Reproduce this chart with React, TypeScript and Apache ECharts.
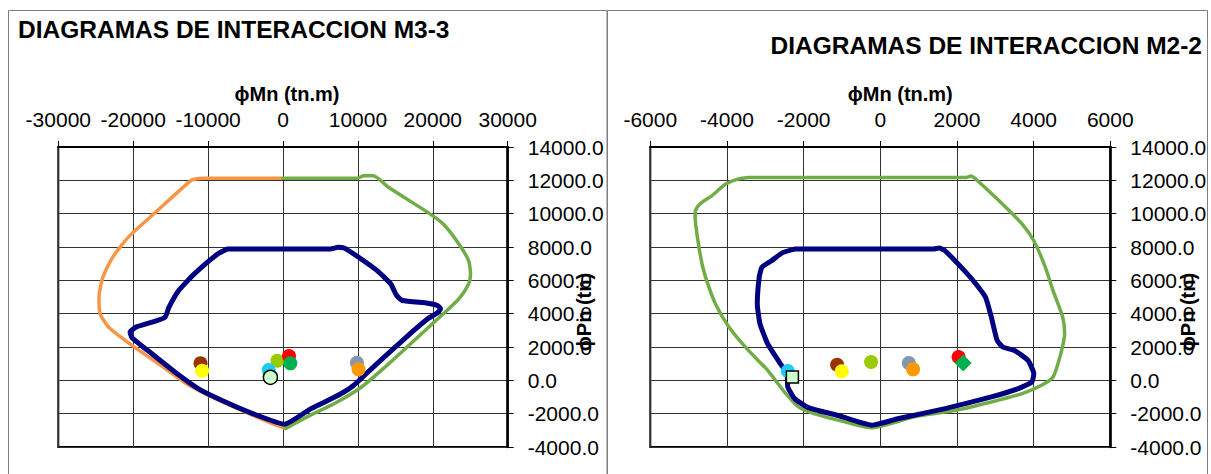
import React, { useEffect, useRef } from "react";
import * as echarts from "echarts";

// ---------- texts ----------
const TITLE_M33 = "DIAGRAMAS DE INTERACCION M3-3";
const TITLE_M22 = "DIAGRAMAS DE INTERACCION M2-2";
const X_NAME = "ϕMn (tn.m)";
const Y_NAME = "ϕPn (tn)";

// ---------- axes ----------
const M33_X = { min: -30000, max: 30000, interval: 10000 };
const M22_X = { min: -6000, max: 6000, interval: 2000 };
const P_AXIS = { min: -4000, max: 14000, interval: 2000 };

// ---------- M3-3 curves [Mn, Pn] ----------
const m33Left: [number, number][] = [
  [0, 12120], [-5000, 12120], [-10800, 12120], [-11840, 12070], [-12360, 11970],
  [-17040, 10075], [-20675, 8580], [-22750, 7380], [-24050, 6185], [-24570, 4990],
  [-24420, 3990], [-23270, 3190], [-20150, 2095], [-16000, 800], [-12880, -200],
  [-9500, -1000], [-5610, -1795], [-1970, -2490], [365, -2890],
];
const m33Right: [number, number][] = [
  [365, -2890], [3220, -2195], [6860, -1395], [10490, -400], [14130, 1000],
  [17770, 2495], [21400, 3990], [23480, 4890], [24780, 5785], [25040, 6385],
  [24780, 7180], [23480, 8180], [21400, 9375], [19330, 10075], [14130, 11570],
  [12050, 12270], [10750, 12270], [9970, 12130], [0, 12130],
];
const m33Design: [number, number][] = [
  [-7429, 7880], [6338, 7880], [7377, 7980], [8156, 7940], [9455, 7581],
  [12572, 6584], [14390, 5786], [15169, 5087], [15949, 4788], [19325, 4628],
  [20624, 4489], [21040, 4289], [20624, 4050], [19325, 3691], [16208, 2494],
  [12052, 798], [9455, -299], [7377, -898], [3740, -1696], [208, -2633],
  [-4052, -1995], [-8208, -1197], [-11325, -499], [-14442, 499], [-18079, 1796],
  [-20157, 2554], [-20416, 2893], [-19637, 3192], [-17040, 3551], [-15741, 3791],
  [-15221, 4389], [-13923, 5387], [-11845, 6384], [-8728, 7581], [-7429, 7880],
];

// ---------- M2-2 curves [Mn, Pn] ----------
const m22Outer: [number, number][] = [
  [-3440, 12165], [-3740, 12060], [-4044, 11760], [-4396, 11070], [-4600, 10770],
  [-4750, 10470], [-4830, 10070], [-4830, 9770], [-4770, 8575], [-4650, 6980],
  [-4500, 5785], [-4300, 4586], [-3945, 3190], [-3440, 1795], [-2937, 598],
  [-2535, -598], [-2133, -1595], [-1730, -1994], [-925, -2492], [-221, -2851],
  [885, -2193], [1891, -1834], [2897, -1296], [3702, -798], [4205, -299],
  [4507, 199], [4708, 1595], [4809, 2791], [4759, 3789], [4507, 5384],
  [4306, 6780], [4004, 8375], [3702, 9372], [3099, 10768], [2495, 12064],
  [2374, 12263], [2243, 12165], [-3440, 12165],
];
const m22Design: [number, number][] = [
  [-2233, 7876], [-2535, 7677], [-2837, 7178], [-3089, 6780], [-3159, 6181],
  [-3209, 4586], [-3139, 3390], [-2937, 2193], [-2636, 1097], [-2434, 399],
  [-2414, -399], [-2233, -1097], [-1881, -1635], [-1127, -2094], [-221, -2692],
  [483, -2293], [1690, -1695], [2897, -997], [3602, -499], [3954, -100],
  [4004, 399], [3853, 1196], [3501, 1795], [3199, 1994], [3048, 2393],
  [2897, 3789], [2746, 4985], [2495, 5783], [2193, 6580], [1690, 7776],
  [1539, 7936], [1388, 7876], [-2233, 7876],
];

// ---------- load points ----------
const loadColors = ["#993300", "#FFFF00", "#99CC00", "#FF0000", "#00B050", "#8497B0", "#FF9900", "#1ECBF5", "#CCFFCC"];
const m33Loads: [number, number][] = [
  [-11013, 1020], [-10800, 576], [-747, 1176], [800, 1458], [987, 1020],
  [9870, 1057], [10080, 660], [-1907, 618], [-1680, 180],
];
const m22Loads: [number, number][] = [
  [-1127, 937], [-1006, 538], [-241, 1097], [2042, 1396], [2163, 1037],
  [744, 1037], [855, 658], [-2414, 558], [-2293, 199],
];
const m33Symbols = ["circle", "circle", "circle", "circle", "circle", "circle", "circle", "circle", "circle"];
const m22Symbols = ["circle", "circle", "circle", "circle", "diamond", "circle", "circle", "circle", "rect"];

const FONT = "'Liberation Sans', Arial, Helvetica, sans-serif";

function lineSeries(data: [number, number][], idx: number, color: string, width: number, smooth: number) {
  return {
    type: "line",
    xAxisIndex: idx,
    yAxisIndex: idx,
    data,
    symbol: "none",
    showSymbol: false,
    smooth,
    silent: true,
    z: 2,
    lineStyle: { color, width, cap: "round", join: "round" },
  };
}

function loadSeries(points: [number, number][], symbols: string[], idx: number) {
  return points.map((p, i) => {
    const isBordered = i === points.length - 1;
    const sym = symbols[i];
    return {
      type: "scatter",
      xAxisIndex: idx,
      yAxisIndex: idx,
      data: [p],
      symbol: sym,
      symbolSize: sym === "diamond" ? 17 : sym === "rect" ? 12 : 14,
      silent: true,
      z: 3 + i,
      itemStyle: {
        color: loadColors[i],
        borderColor: isBordered ? "#000" : loadColors[i],
        borderWidth: isBordered ? 1.5 : 0,
        opacity: 1,
      },
    };
  });
}

function xAxisDef(idx: number, cfg: { min: number; max: number; interval: number }, namePad: number) {
  return {
    type: "value",
    gridIndex: idx,
    position: "top",
    min: cfg.min,
    max: cfg.max,
    interval: cfg.interval,
    name: X_NAME,
    nameLocation: "middle",
    nameGap: 32,
    nameTextStyle: { fontFamily: FONT, fontSize: 20, fontWeight: "bold", color: "#000", padding: [0, 0, 0, namePad] },
    axisLine: { show: true, onZero: false, lineStyle: { color: "#000", width: 2 } },
    axisTick: { show: true, inside: false, length: 6, lineStyle: { color: "#000", width: 1 } },
    axisLabel: {
      show: true,
      margin: 17,
      fontSize: 21,
      fontFamily: FONT,
      color: "#000",
      showMinLabel: true,
      showMaxLabel: true,
      formatter: (v: number) => String(v),
    },
    splitLine: { show: true, lineStyle: { color: "#333333", width: 1 } },
  };
}

function yAxisDef(idx: number) {
  return {
    type: "value",
    gridIndex: idx,
    position: "right",
    min: P_AXIS.min,
    max: P_AXIS.max,
    interval: P_AXIS.interval,
    axisLine: { show: true, onZero: false, lineStyle: { color: "#000", width: 2.5 } },
    axisTick: { show: true, inside: false, length: 6, lineStyle: { color: "#000", width: 1 } },
    axisLabel: {
      show: true,
      margin: 20,
      fontSize: 21,
      fontFamily: FONT,
      color: "#000",
      showMinLabel: true,
      showMaxLabel: true,
      formatter: (v: number) => v.toFixed(1),
    },
    splitLine: { show: true, lineStyle: { color: "#333333", width: 1 } },
  };
}

export default function App() {
  const ref = useRef<HTMLDivElement>(null);
  useEffect(() => {
    if (!ref.current) return;
    const chart = echarts.init(ref.current, undefined, { renderer: "svg" });
    const option = {
      animation: false,
      backgroundColor: "#ffffff",
      grid: [
        { left: 58.3, top: 147, width: 449.4, height: 300, show: true, borderColor: "#000", borderWidth: 2, backgroundColor: "transparent" },
        { left: 650.3, top: 147, width: 460, height: 300, show: true, borderColor: "#000", borderWidth: 2, backgroundColor: "transparent" },
      ],
      xAxis: [xAxisDef(0, M33_X, 8), xAxisDef(1, M22_X, 40)],
      yAxis: [yAxisDef(0), yAxisDef(1)],
      graphic: [
        { type: "rect", silent: true, shape: { x: 8.5, y: 10.5, width: 598.5, height: 480 }, style: { fill: "none", stroke: "#7f7f7f", lineWidth: 1 } },
        { type: "rect", silent: true, shape: { x: 607.5, y: 10.5, width: 600, height: 480 }, style: { fill: "none", stroke: "#7f7f7f", lineWidth: 1 } },
        { type: "text", x: 18, y: 29, style: { text: TITLE_M33, fontFamily: FONT, fontSize: 24.5, fontWeight: "bold", fill: "#000", align: "left", verticalAlign: "middle" } },
        { type: "text", x: 1202, y: 45, style: { text: TITLE_M22, fontFamily: FONT, fontSize: 24.5, fontWeight: "bold", fill: "#000", align: "right", verticalAlign: "middle" } },
        { type: "text", x: 584, y: 312, rotation: Math.PI / 2, z: 10, style: { text: Y_NAME, fontFamily: FONT, fontSize: 20, fontWeight: "bold", fill: "#000", align: "center", verticalAlign: "middle" } },
        { type: "text", x: 1188, y: 312, rotation: Math.PI / 2, z: 10, style: { text: Y_NAME, fontFamily: FONT, fontSize: 20, fontWeight: "bold", fill: "#000", align: "center", verticalAlign: "middle" } },
      ],
      series: [
        lineSeries(m33Left, 0, "#F79646", 3.5, 0.2),
        lineSeries(m33Right, 0, "#70AD47", 3.5, 0.2),
        lineSeries(m33Design, 0, "#000080", 5, 0.15),
        ...loadSeries(m33Loads, m33Symbols, 0),
        lineSeries(m22Outer, 1, "#70AD47", 3.5, 0.2),
        lineSeries(m22Design, 1, "#000080", 5, 0.15),
        ...loadSeries(m22Loads, m22Symbols, 1),
      ],
    };
    chart.setOption(option as any);
    return () => chart.dispose();
  }, []);
  return (
    <div
      ref={ref}
      style={{ position: "absolute", left: 0, top: 0, width: 1211, height: 474, background: "#fff" }}
    />
  );
}
